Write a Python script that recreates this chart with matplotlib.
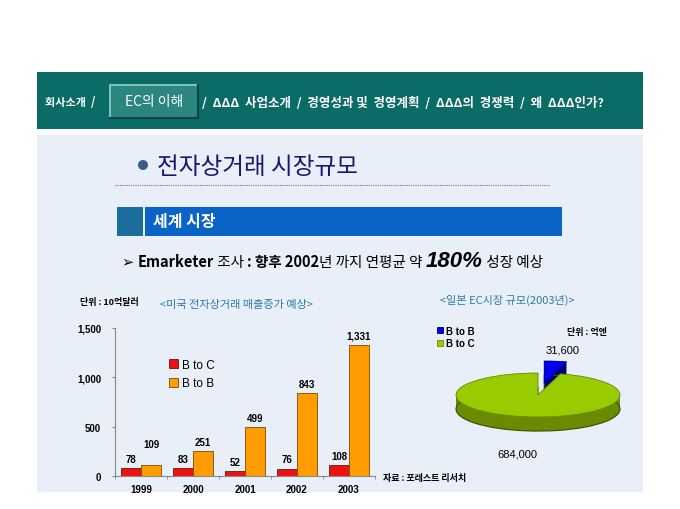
import matplotlib
matplotlib.use('Agg')
import matplotlib.pyplot as plt
from matplotlib.patches import Rectangle, Circle
import numpy as np

plt.rcParams['font.family'] = ['Noto Sans CJK KR', 'DejaVu Sans']

W, H = 680, 510

# bar chart data (US e-commerce, 10억달러)
years = ['1999', '2000', '2001', '2002', '2003']
b2c = [78, 83, 52, 76, 108]
b2b = [109, 251, 499, 843, 1331]
y_ticks = [0, 500, 1000, 1500]

# pie data (Japan EC market 2003, 억엔)
pie_labels = ['B to B', 'B to C']
pie_values = [31600, 684000]

nav_left = '회사소개  /'
nav_button = 'EC의 이해'
nav_right = '/  ΔΔΔ  사업소개  /  경영성과 및  경영계획  /  ΔΔΔ의  경쟁력  /  왜  ΔΔΔ인가?'

teal = '#0b6b66'
panel = '#e9eff8'
title_blue = '#2a7aa8'
num_font = ['Liberation Sans Narrow', 'Liberation Sans', 'DejaVu Sans']

fig = plt.figure(figsize=(6.8, 5.1), dpi=100)
fig.patch.set_facecolor('white')

# background axes in pixel coordinates
bg = fig.add_axes([0, 0, 1, 1])
bg.set_xlim(0, W)
bg.set_ylim(H, 0)
bg.axis('off')

# header bar and panel
bg.add_patch(Rectangle((37, 73), 606, 57, fc=teal, ec='none'))
bg.add_patch(Rectangle((37, 136), 606, 357, fc=panel, ec='none'))

# bevelled button
bg.add_patch(Rectangle((110, 86), 88, 33, fc='#2b8680', ec='none'))
bg.plot([110, 110, 198], [119, 86, 86], color='#7cc2ba', lw=1.5)
bg.plot([110, 198, 198], [119, 119, 86], color='#074540', lw=1.5)
bg.text(154, 102, nav_button, color='white', fontsize=10, ha='center', va='center')
bg.text(45, 103, nav_left, color='white', fontsize=8, fontweight='bold', va='center')
bg.text(202, 103, nav_right, color='white', fontsize=9, fontweight='bold', va='center')

# title
bg.add_patch(Circle((143, 166), 5, fc='#3b5b8e', ec='none'))
bg.text(157, 168, '전자상거래 시장규모', color='#17176e', fontsize=17, va='center')
bg.plot([115, 550], [186, 186], color='#777777', lw=0.8, ls=(0, (1, 1)))

# section bar
bg.add_patch(Rectangle((117, 208), 26, 29, fc='#1b6e9c', ec='none'))
bg.add_patch(Rectangle((145, 208), 417, 29, fc='#0a64c8', ec='none'))
bg.text(153, 222, '세계 시장', color='white', fontsize=11.5, fontweight='bold', va='center')

# bullet line, chained pieces on a shared baseline
fs = 10.5
pieces = [
    ('➢ ', dict(fontsize=fs)),
    ('Emarketer', dict(fontsize=fs, fontweight='bold')),
    (' 조사 ', dict(fontsize=fs)),
    (': 향후 2002', dict(fontsize=fs, fontweight='bold')),
    ('년 까지 연평균 약 ', dict(fontsize=fs)),
    ('180%', dict(fontsize=16, fontweight='bold', fontstyle='italic', family='Liberation Sans')),
    (' 성장 예상', dict(fontsize=fs)),
]
base_y = 267
t = bg.text(122, base_y, pieces[0][0], va='baseline', **pieces[0][1])
for s, kw in pieces[1:]:
    t = bg.annotate(s, xy=(1, base_y), xycoords=(t, 'data'), va='baseline', **kw)

# ---- bar chart ----
ax = fig.add_axes([115 / W, 1 - 477 / H, 260 / W, 148 / H])
ax.set_facecolor('none')
x = np.arange(len(years))
w = 0.385
bars1 = ax.bar(x - w / 2, b2c, w, color='#ee1111', edgecolor='#6a1a00', lw=0.6, label='B to C')
bars2 = ax.bar(x + w / 2, b2b, w, color='#ff9c00', edgecolor='#7a4a00', lw=0.6, label='B to B')
ax.set_xlim(-0.5, len(years) - 0.5)
ax.set_ylim(0, 1500)
ax.set_yticks(y_ticks)
ax.set_yticklabels([f'{v:,}' for v in y_ticks], fontsize=7, fontweight='bold', family=num_font)
ax.set_xticks(x)
ax.set_xticklabels(years, fontsize=7, fontweight='bold', family=num_font)
ax.set_xticks(np.arange(len(years) + 1) - 0.5, minor=True)
ax.tick_params(axis='x', which='major', length=0, pad=6)
ax.tick_params(axis='x', which='minor', length=2, color='#888888')
ax.tick_params(axis='y', length=2, color='#888888', pad=8)
for s in ['top', 'right']:
    ax.spines[s].set_visible(False)
for s in ['left', 'bottom']:
    ax.spines[s].set_color('#888888')
    ax.spines[s].set_linewidth(0.8)

b2b_pad = [12, 3, 3, 3, 3]
for b, v in zip(bars1, b2c):
    ax.annotate(f'{v:,}', (b.get_x() + b.get_width() / 2, v), xytext=(0, 3),
                textcoords='offset points', ha='center', va='bottom',
                fontsize=7, fontweight='bold', family=num_font)
for b, v, p in zip(bars2, b2b, b2b_pad):
    ax.annotate(f'{v:,}', (b.get_x() + b.get_width() / 2, v), xytext=(0, p),
                textcoords='offset points', ha='center', va='bottom',
                fontsize=7, fontweight='bold', family=num_font)

ax.legend(loc='upper left', bbox_to_anchor=(158 / W, 1 - 349 / H), bbox_transform=fig.transFigure,
          frameon=False, handlelength=0.8, handleheight=0.8, handletextpad=0.3,
          labelspacing=0.55, prop={'family': 'Liberation Sans', 'size': 8.5})

bg.text(80, 303, '단위 : 10억달러', fontsize=6.5, fontweight='bold', va='center')
bg.text(160, 305, '<미국 전자상거래 매출증가 예상>', fontsize=8, color=title_blue, va='center')
bg.text(383, 479, '자료 : 포레스트 리서치', fontsize=6.5, fontweight='bold', va='center')

# ---- 3D-looking pie ----
cx, cy, a, b = 538, 396, 82, 22
xl, yl = (-1.15, 1.15), (-1.8, 1.8)
pa = fig.add_axes([(cx + xl[0] * a) / W, 1 - (cy - yl[0] * b) / H,
                   (xl[1] - xl[0]) * a / W, (yl[1] - yl[0]) * b / H])
explode = [0.55, 0]
depth = 0.64
for k in np.linspace(depth, 0.02, 30):
    pa.pie(pie_values, colors=['#00007a', '#6a8a00'], startangle=90, counterclock=False,
           explode=explode, center=(0, -k), wedgeprops=dict(linewidth=0))
pa.pie(pie_values, colors=['#55550a', '#4a6200'], startangle=90, counterclock=False,
       explode=explode, center=(0, -depth), wedgeprops=dict(linewidth=0.8, edgecolor='#3a4d00', fill=False))
top, _ = pa.pie(pie_values, colors=['#0000ee', '#99cc00'], startangle=90, counterclock=False,
                explode=explode, center=(0, 0), wedgeprops=dict(linewidth=0.6, edgecolor='#6a8a00'))
top[0].set_edgecolor('#000080')
pa.set_xlim(*xl)
pa.set_ylim(*yl)
pa.set_aspect('auto')
pa.axis('off')

pa.legend(top, pie_labels, loc='upper left', bbox_to_anchor=(428 / W, 1 - 318 / H),
          bbox_transform=fig.transFigure, frameon=False, handlelength=0.6, handleheight=0.6,
          handletextpad=0.3, labelspacing=0.25, prop={'family': 'Liberation Sans', 'size': 7, 'weight': 'bold'})

bg.text(440, 300, '<일본 EC시장 규모(2003년)>', fontsize=8, color=title_blue, va='center')
bg.text(567, 333, '단위 : 억엔', fontsize=6.5, fontweight='bold', va='center')
bg.text(563, 351, f'{pie_values[0]:,}', fontsize=8, family='Liberation Sans', ha='center', va='center')
bg.text(517, 455, f'{pie_values[1]:,}', fontsize=8, family='Liberation Sans', ha='center', va='center')

fig.savefig('out.png', dpi=100)
